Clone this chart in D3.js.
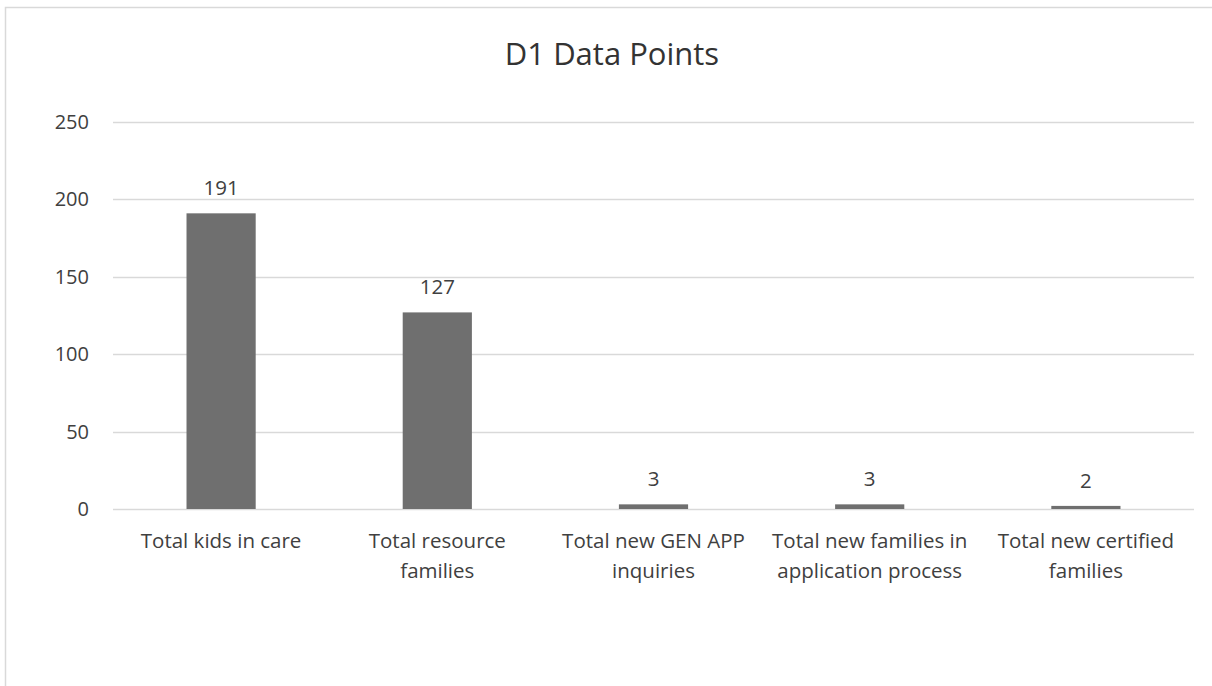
<!DOCTYPE html>
<html>
<head>
<meta charset="utf-8">
<script src="https://cdn.jsdelivr.net/npm/d3@7"></script>
<style>
  body { margin: 0; background: #fff; }
  svg { display: block; font-family: "Open Sans", "Noto Sans", sans-serif; }
</style>
</head>
<body>
<div id="chart"></div>
<script>
const categories = [
    ["Total kids in care"],
    ["Total resource", "families"],
    ["Total new GEN APP", "inquiries"],
    ["Total new families in", "application process"],
    ["Total new certified", "families"]
];
const values = [191, 127, 3, 3, 2];
const yTicks = [0, 50, 100, 150, 200, 250];

const width = 1212;
const height = 686;
const margin = { top: 122, right: 18, bottom: 177, left: 113 };

const svg = d3.select("#chart")
    .append("svg")
    .attr("width", width)
    .attr("height", height);

// chart frame
svg.append("path")
    .attr("d", `M5.5,${height} V7.5 H${width}`)
    .attr("fill", "none")
    .attr("stroke", "#d9d9d9")
    .attr("stroke-width", 1.5);

svg.append("text")
    .attr("x", 612)
    .attr("y", 65)
    .attr("text-anchor", "middle")
    .attr("font-size", 31)
    .attr("fill", "#333")
    .text("D1 Data Points");

const xScale = d3.scaleBand()
    .domain(categories.map((d, i) => i))
    .range([margin.left, width - margin.right])
    .paddingInner(0.68)
    .paddingOuter(0.34);

const yScale = d3.scaleLinear()
    .domain([0, 250])
    .range([height - margin.bottom, margin.top]);

// gridlines
svg.append("g")
    .selectAll("line")
    .data(yTicks)
    .join("line")
    .attr("x1", margin.left)
    .attr("x2", width - margin.right)
    .attr("y1", (d) => Math.round(yScale(d)) + 0.5)
    .attr("y2", (d) => Math.round(yScale(d)) + 0.5)
    .attr("stroke", "#d9d9d9")
    .attr("stroke-width", 1.3);

const yAxis = d3.axisLeft(yScale).tickValues(yTicks).tickSize(0).tickPadding(24);
svg.append("g")
    .attr("transform", `translate(${margin.left}, 0)`)
    .call(yAxis)
    .call((g) => g.select(".domain").remove())
    .selectAll("text")
    .attr("font-size", 20)
    .attr("font-family", "Open Sans, sans-serif")
    .attr("fill", "#404040");

// bars
svg.append("g")
    .selectAll("rect")
    .data(values)
    .join("rect")
    .attr("x", (d, i) => xScale(i))
    .attr("y", (d) => yScale(d))
    .attr("width", xScale.bandwidth())
    .attr("height", (d) => yScale(0) - yScale(d))
    .attr("fill", "#6f6f6f");

// data labels
svg.append("g")
    .selectAll("text")
    .data(values)
    .join("text")
    .attr("x", (d, i) => xScale(i) + xScale.bandwidth() / 2)
    .attr("y", (d) => yScale(d) - 18)
    .attr("text-anchor", "middle")
    .attr("font-size", 20.5)
    .attr("fill", "#404040")
    .text((d) => d);

// category labels
const catLabels = svg.append("g")
    .selectAll("text")
    .data(categories)
    .join("text")
    .attr("x", (d, i) => xScale(i) + xScale.bandwidth() / 2)
    .attr("y", yScale(0) + 39)
    .attr("text-anchor", "middle")
    .attr("font-size", 20.5)
    .attr("fill", "#404040");

catLabels.selectAll("tspan")
    .data((d) => d)
    .join("tspan")
    .attr("x", function () { return d3.select(this.parentNode).attr("x"); })
    .attr("dy", (d, i) => i === 0 ? 0 : 30)
    .text((d) => d);
</script>
</body>
</html>
